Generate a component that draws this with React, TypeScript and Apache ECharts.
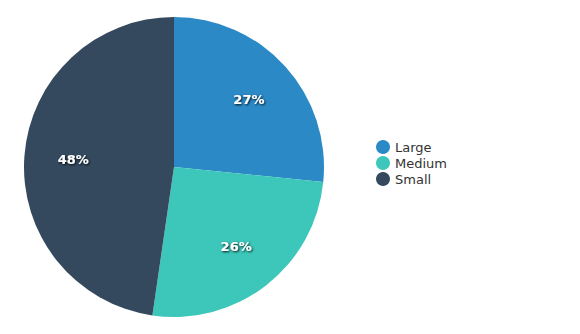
import React, { useEffect, useRef } from "react";
import * as echarts from "echarts";

const categories = ["Large", "Medium", "Small"];
const values = [26.6, 25.7, 47.7];
const colors = ["#2B89C6", "#3DC6BA", "#34495E"];

export default function App() {
  const ref = useRef<HTMLDivElement>(null);
  useEffect(() => {
    if (!ref.current) return;
    const chart = echarts.init(ref.current, null, { renderer: "svg" });
    const total = values.reduce((a, b) => a + b, 0);
    const data = categories.map((name, i) => ({ name, value: values[i] }));
    chart.setOption({
      animation: false,
      color: colors,
      textStyle: { fontFamily: "DejaVu Sans" },
      legend: {
        orient: "vertical",
        left: 371,
        top: 135,
        icon: "circle",
        itemWidth: 14,
        itemHeight: 14,
        itemGap: 2,
        data: categories,
        textStyle: { fontSize: 13, color: "#333", fontFamily: "DejaVu Sans" },
      },
      series: [
        {
          type: "pie",
          center: [174, 167],
          radius: [0, 150],
          startAngle: 90,
          clockwise: true,
          data,
          label: { show: false },
          labelLine: { show: false },
          emphasis: { disabled: true },
        },
        {
          type: "pie",
          center: [174, 167],
          radius: [0, 196],
          startAngle: 90,
          clockwise: true,
          silent: true,
          data,
          itemStyle: { color: "rgba(0,0,0,0)" },
          emphasis: { disabled: true },
          labelLine: { show: false },
          label: {
            show: true,
            position: "inside",
            color: "#fff",
            fontSize: 13,
            fontWeight: "bold",
            fontFamily: "DejaVu Sans",
            textShadowColor: "rgba(0,0,0,0.9)",
            textShadowBlur: 2,
            textShadowOffsetX: 1,
            textShadowOffsetY: 1,
            formatter: (p: any) => Math.round((p.value / total) * 100) + "%",
          },
        },
      ],
    });
    return () => chart.dispose();
  }, []);
  return (
    <div
      ref={ref}
      style={{ position: "fixed", left: 0, top: 0, width: 580, height: 334, background: "#fff" }}
    />
  );
}
